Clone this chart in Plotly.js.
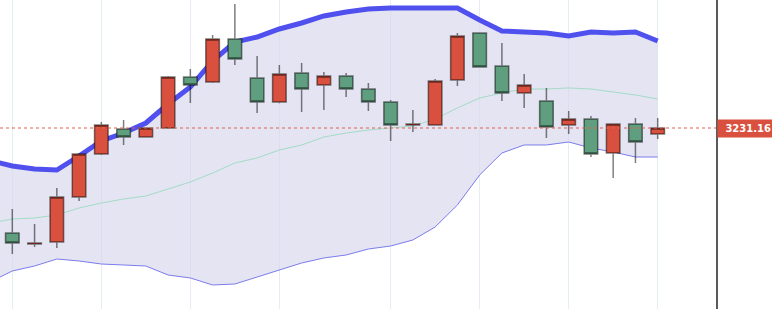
<!DOCTYPE html>
<html>
<head>
<meta charset="utf-8">
<script src="https://cdn.plot.ly/plotly-3.0.1.min.js"></script>
<style>html,body{margin:0;padding:0;background:#fff;}#chart{width:772px;height:309px;}</style>
</head>
<body>
<div id="chart"></div>
<script>
// Band dates include one leading session before the first visible candle
const bandDates = ['2025-04-04','2025-04-07','2025-04-08','2025-04-09','2025-04-10','2025-04-11','2025-04-14','2025-04-15','2025-04-16','2025-04-17','2025-04-21','2025-04-22','2025-04-23','2025-04-24','2025-04-25','2025-04-28','2025-04-29','2025-04-30','2025-05-01','2025-05-02','2025-05-05','2025-05-06','2025-05-07','2025-05-08','2025-05-09','2025-05-12','2025-05-13','2025-05-14','2025-05-15','2025-05-16','2025-05-19'];
const candleDates = bandDates.slice(1);

const openP  = [3003.3,2979.4,2983.8,3081.4,3174.7,3229.0,3211.6,3231.2,3341.8,3331.0,3424.3,3339.7,3287.6,3350.5,3324.5,3344.0,3315.8,3287.6,3237.7,3237.7,3335.3,3437.3,3365.7,3307.1,3289.8,3237.7,3250.7,3176.9,3239.8,3218.1];
const highP  = [3055.4,3022.8,3101.0,3176.9,3244.2,3248.5,3232.0,3344.0,3359.2,3433.0,3500.2,3387.4,3367.9,3372.2,3352.7,3350.5,3328.8,3291.9,3270.2,3337.5,3437.3,3438.0,3415.6,3348.3,3318.0,3268.1,3257.2,3240.5,3252.9,3252.9];
const lowP   = [2957.7,2972.9,2970.8,3072.8,3172.6,3194.3,3210.0,3229.0,3285.4,3328.8,3367.9,3263.7,3285.0,3265.9,3270.2,3298.4,3268.1,3202.9,3222.5,3236.0,3322.3,3362.0,3289.8,3274.6,3209.5,3218.1,3168.2,3122.7,3155.2,3207.3];
const closeP = [2981.6,2981.6,3081.4,3174.7,3237.7,3211.6,3231.2,3341.8,3324.5,3424.3,3380.9,3287.6,3348.3,3315.8,3344.0,3315.8,3287.6,3237.7,3239.8,3333.2,3430.8,3363.5,3307.1,3324.5,3233.3,3250.7,3174.7,3239.8,3200.8,3231.16];

const upperBand  = [3160.6,3148.7,3142.2,3140.0,3170.4,3203.0,3220.3,3242.0,3283.2,3320.1,3376.6,3417.8,3428.6,3446.0,3459.0,3474.2,3482.9,3489.4,3491.6,3491.6,3491.6,3491.6,3465.5,3441.7,3439.5,3437.3,3430.8,3439.5,3437.3,3439.5,3420.0];
const middleBand = [3025.0,3033.7,3035.9,3042.4,3057.6,3068.4,3077.1,3083.6,3098.8,3114.0,3133.5,3155.2,3166.1,3183.4,3194.3,3211.6,3220.3,3226.8,3231.2,3235.5,3250.7,3274.6,3296.3,3307.1,3315.8,3315.8,3318.0,3315.8,3309.3,3302.8,3294.1];
const lowerBand  = [2897.0,2920.9,2931.7,2946.9,2942.6,2936.0,2933.9,2931.7,2912.2,2905.7,2890.5,2892.6,2907.8,2923.0,2938.2,2949.1,2955.6,2968.6,2975.1,2988.1,3016.3,3064.1,3129.2,3176.9,3194.3,3194.3,3200.8,3187.8,3179.1,3168.2,3168.2];

const gridDates = ['2025-04-07','2025-04-11','2025-04-17','2025-04-24','2025-05-01','2025-05-07','2025-05-13','2025-05-19'];
const lastPrice = 3231.16;
const lastPriceLabel = '3231.16';

const xRange = [0.447, 32.62];
const yRange = [2838.4, 3508.9];

const traces = [
  {x: bandDates, y: lowerBand, type: 'scatter', mode: 'lines',
   line: {color: '#7c7cec', width: 1}, hoverinfo: 'skip', showlegend: false},
  {x: bandDates, y: upperBand, type: 'scatter', mode: 'lines', fill: 'tonexty',
   fillcolor: 'rgba(214,214,236,0.65)',
   line: {color: '#5050ef', width: 5}, hoverinfo: 'skip', showlegend: false},
  {x: bandDates, y: middleBand, type: 'scatter', mode: 'lines',
   line: {color: '#a3dcc6', width: 1}, hoverinfo: 'skip', showlegend: false},
  {x: candleDates, open: openP, high: highP, low: lowP, close: closeP, type: 'candlestick',
   xaxis: 'x2', yaxis: 'y2',
   increasing: {fillcolor: '#d9503f', line: {color: 'rgba(0,0,0,0.5)', width: 1.5}},
   decreasing: {fillcolor: '#5f9e7f', line: {color: 'rgba(0,0,0,0.5)', width: 1.5}},
   showlegend: false}
];

const layout = {
  width: 772, height: 309,
  margin: {l: 0, r: 56, t: 0, b: 0, pad: 0},
  paper_bgcolor: '#ffffff', plot_bgcolor: '#ffffff',
  showlegend: false,
  boxgap: 0.39, boxgroupgap: 0,
  xaxis: {
    type: 'category', categoryorder: 'array', categoryarray: bandDates,
    range: xRange,
    tickmode: 'array', tickvals: gridDates, showticklabels: false, ticks: '',
    showgrid: true, gridcolor: '#e3edf3', gridwidth: 1,
    showline: false, zeroline: false,
    rangeslider: {visible: false}, fixedrange: true
  },
  yaxis: {
    range: yRange, side: 'right',
    showgrid: false, zeroline: false, showticklabels: false, ticks: '',
    showline: true, linecolor: '#5a5a5a', linewidth: 2, fixedrange: true
  },
  xaxis2: {
    type: 'category', categoryorder: 'array', categoryarray: bandDates,
    overlaying: 'x', range: xRange, visible: false,
    showgrid: false, zeroline: false, showticklabels: false,
    rangeslider: {visible: false}, fixedrange: true
  },
  yaxis2: {
    overlaying: 'y', range: yRange, visible: false, side: 'right',
    showgrid: false, zeroline: false, showticklabels: false, fixedrange: true
  },
  shapes: [
    {type: 'line', xref: 'paper', yref: 'y', x0: 0, x1: 1, y0: lastPrice, y1: lastPrice,
     line: {color: '#e0604f', width: 1, dash: 'dot'}},
    {type: 'line', xref: 'paper', yref: 'y', x0: 1.0056, x1: 1.0112, y0: lastPrice, y1: lastPrice,
     line: {color: '#ffffff', width: 1}}
  ],
  annotations: [
    {xref: 'paper', yref: 'y', x: 1, y: lastPrice, xanchor: 'left', yanchor: 'middle', xshift: 1,
     text: '<b>' + lastPriceLabel + '</b>', showarrow: false,
     bgcolor: '#d9503f', borderpad: 1, width: 52, height: 15, align: 'right',
     font: {family: 'DejaVu Sans', size: 10, color: '#ffffff'}}
  ]
};

Plotly.newPlot('chart', traces, layout, {displayModeBar: false, staticPlot: true});
</script>
</body>
</html>
